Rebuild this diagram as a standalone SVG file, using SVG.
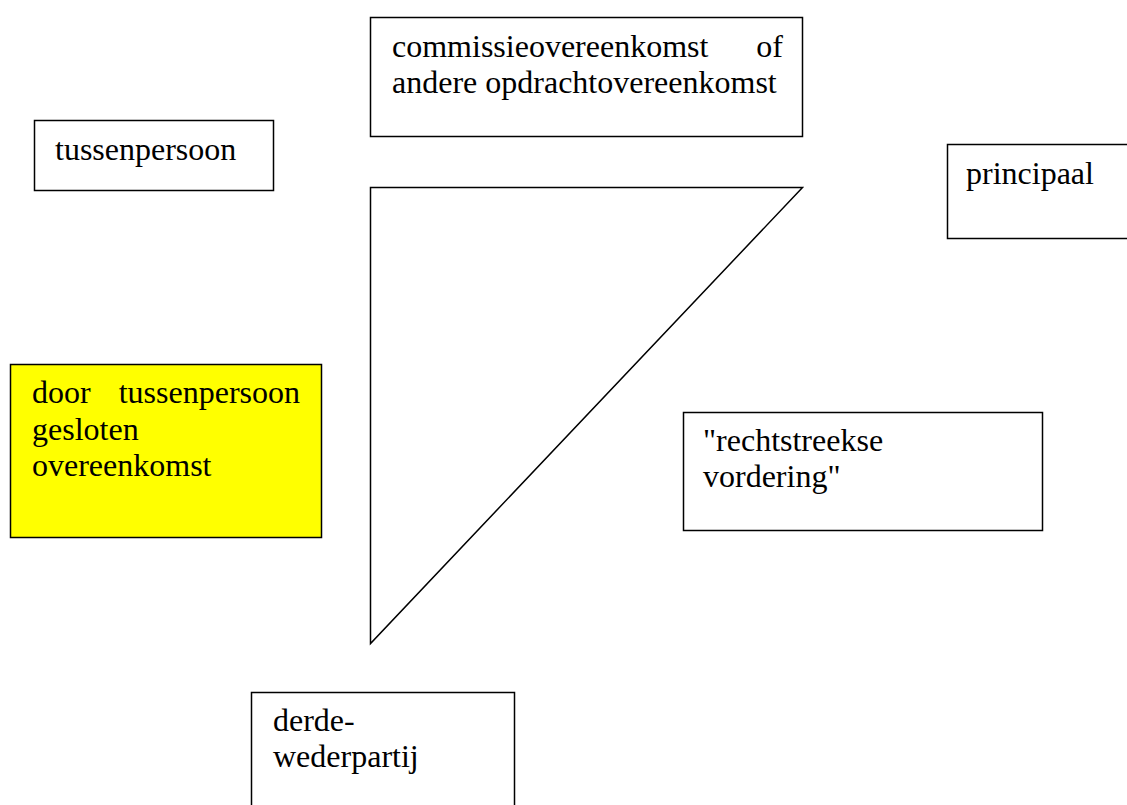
<svg xmlns="http://www.w3.org/2000/svg" width="1127" height="805" viewBox="0 0 1127 805">
  <style>
    .box { fill: #ffffff; stroke: #000000; stroke-width: 1.5; }
    .hl { fill: #ffff00; }
    .lbl { font-family: "Liberation Serif", "Times New Roman", serif; font-size: 32px; fill: #000000; }
    .edge { fill: none; stroke: #000000; stroke-width: 1.5; stroke-linejoin: miter; }
  </style>
  <rect x="0" y="0" width="1127" height="805" fill="#ffffff"/>

  <!-- connectors: triangle linking the three parties -->
  <g id="connectors">
    <polygon class="edge" points="370.5,187.5 802.5,187.5 370.5,643.5"/>
  </g>

  <g id="commissieovereenkomst">
    <rect class="box" x="370.5" y="17.5" width="432" height="119"/>
    <text class="lbl" x="392" y="57">commissieovereenkomst</text>
    <text class="lbl" x="783" y="57" text-anchor="end">of</text>
    <text class="lbl" x="392" y="93">andere opdrachtovereenkomst</text>
  </g>

  <g id="tussenpersoon">
    <rect class="box" x="34.5" y="120.5" width="239" height="70"/>
    <text class="lbl" x="55" y="160">tussenpersoon</text>
  </g>

  <g id="principaal">
    <rect class="box" x="947.5" y="144.5" width="190" height="94"/>
    <text class="lbl" x="966" y="184">principaal</text>
  </g>

  <g id="gesloten-overeenkomst">
    <rect class="box hl" x="10.5" y="364.5" width="311" height="173"/>
    <text class="lbl" x="32" y="403">door</text>
    <text class="lbl" x="300" y="403" text-anchor="end">tussenpersoon</text>
    <text class="lbl" x="32" y="439.5">gesloten</text>
    <text class="lbl" x="32" y="476">overeenkomst</text>
  </g>

  <g id="rechtstreekse-vordering">
    <rect class="box" x="683.5" y="412.5" width="359" height="118"/>
    <text class="lbl" x="703" y="451">"rechtstreekse</text>
    <text class="lbl" x="703" y="487">vordering"</text>
  </g>

  <g id="derde-wederpartij">
    <rect class="box" x="251.5" y="692.5" width="263" height="130"/>
    <text class="lbl" x="273" y="731">derde-</text>
    <text class="lbl" x="273" y="767">wederpartij</text>
  </g>
</svg>
